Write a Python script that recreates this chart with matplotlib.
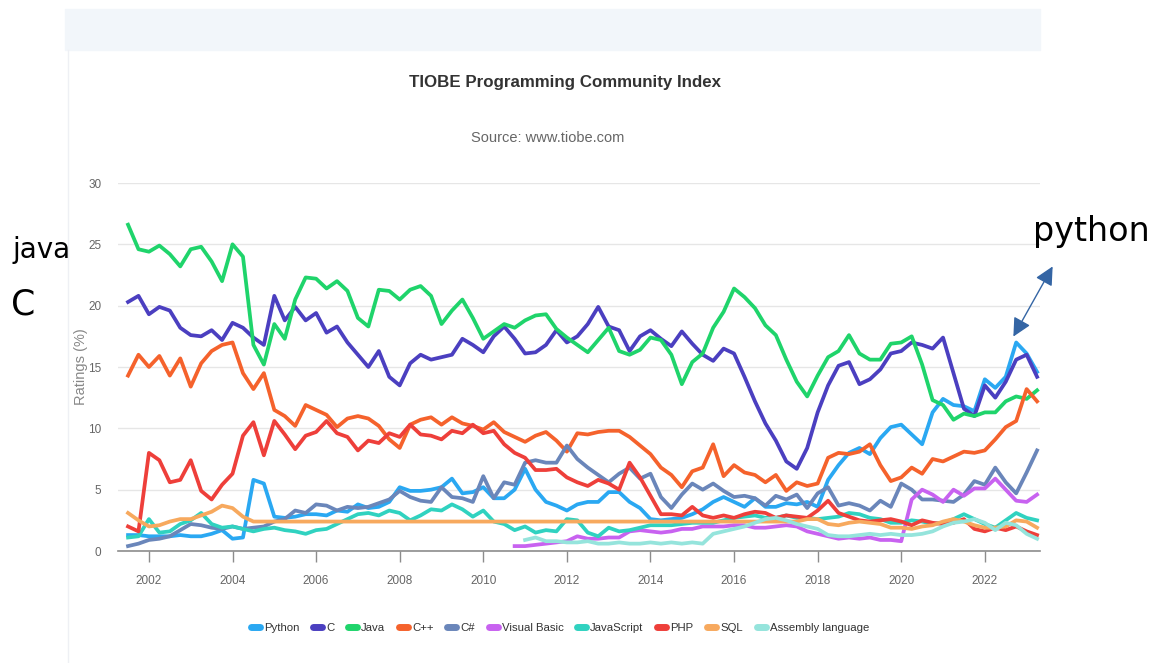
import matplotlib
matplotlib.use("Agg")
import matplotlib.pyplot as plt
import numpy as np
from matplotlib.lines import Line2D
from matplotlib.patches import Rectangle, FancyArrowPatch

nan = np.nan

# quarterly samples, mid 2001 .. spring 2023
years = 2001.5 + 0.25 * np.arange(88)

python = [
    1.3, 1.3, 1.2, 1.2, 1.2, 1.3, 1.2, 1.2,
    1.4, 1.7, 1.0, 1.1, 5.8, 5.5, 2.8, 2.7,
    2.8, 3.0, 3.0, 2.9, 3.3, 3.2, 3.8, 3.5,
    3.6, 4.0, 5.2, 4.9, 4.9, 5.0, 5.2, 5.9,
    4.7, 4.8, 5.2, 4.3, 4.3, 5.0, 6.7, 5.0,
    4.0, 3.7, 3.3, 3.8, 4.0, 4.0, 4.8, 4.8,
    4.0, 3.5, 2.6, 2.5, 2.6, 2.7, 3.0, 3.4,
    4.0, 4.4, 4.0, 3.6, 4.3, 3.6, 3.6, 3.9,
    3.8, 4.0, 3.6, 5.8, 7.0, 8.0, 8.4, 7.9,
    9.2, 10.1, 10.3, 9.5, 8.7, 11.3, 12.4, 11.9,
    11.8, 11.4, 14.0, 13.3, 14.2, 17.0, 16.1, 14.6,
]
c_lang = [
    20.3, 20.8, 19.3, 19.9, 19.6, 18.2, 17.6, 17.5,
    18.0, 17.2, 18.6, 18.2, 17.4, 16.8, 20.8, 18.8,
    19.9, 18.8, 19.4, 17.8, 18.3, 17.0, 16.0, 15.0,
    16.3, 14.2, 13.5, 15.3, 16.0, 15.6, 15.8, 16.0,
    17.3, 16.8, 16.2, 17.5, 18.3, 17.3, 16.1, 16.2,
    16.8, 18.0, 17.0, 17.5, 18.5, 19.9, 18.3, 18.0,
    16.3, 17.5, 18.0, 17.3, 16.7, 17.9, 16.9, 16.0,
    15.5, 16.5, 16.1, 14.2, 12.2, 10.4, 9.0, 7.3,
    6.7, 8.4, 11.3, 13.5, 15.1, 15.4, 13.6, 14.0,
    14.8, 16.1, 16.3, 17.0, 16.8, 16.5, 17.4, 14.5,
    11.6, 11.0, 13.5, 12.5, 13.8, 15.6, 16.0, 14.2,
]
java = [
    26.6, 24.6, 24.4, 24.9, 24.2, 23.2, 24.6, 24.8,
    23.6, 22.0, 25.0, 24.0, 16.8, 15.2, 18.5, 17.3,
    20.5, 22.3, 22.2, 21.4, 22.0, 21.2, 19.0, 18.3,
    21.3, 21.2, 20.5, 21.3, 21.6, 20.8, 18.5, 19.6,
    20.5, 19.0, 17.3, 17.9, 18.5, 18.2, 18.8, 19.2,
    19.3, 18.1, 17.4, 16.8, 16.2, 17.2, 18.2, 16.3,
    16.0, 16.4, 17.4, 17.2, 16.0, 13.6, 15.4, 16.1,
    18.2, 19.5, 21.4, 20.7, 19.8, 18.4, 17.6, 15.6,
    13.8, 12.6, 14.3, 15.8, 16.3, 17.6, 16.1, 15.6,
    15.6, 16.9, 17.0, 17.5, 15.2, 12.3, 11.9, 10.7,
    11.2, 11.0, 11.3, 11.3, 12.2, 12.6, 12.4, 13.1,
]
cpp = [
    14.3, 16.0, 15.0, 15.9, 14.3, 15.7, 13.4, 15.3,
    16.3, 16.8, 17.0, 14.5, 13.2, 14.5, 11.5, 11.0,
    10.2, 11.9, 11.5, 11.1, 10.1, 10.8, 11.0, 10.8,
    10.2, 9.1, 8.4, 10.3, 10.7, 10.9, 10.3, 10.9,
    10.4, 10.2, 9.9, 10.5, 9.7, 9.3, 8.9, 9.4,
    9.7, 9.0, 8.1, 9.6, 9.5, 9.7, 9.8, 9.8,
    9.3, 8.6, 7.9, 6.8, 6.2, 5.2, 6.5, 6.8,
    8.7, 6.1, 7.0, 6.4, 6.2, 5.6, 6.2, 4.9,
    5.6, 5.3, 5.5, 7.6, 8.0, 7.9, 8.1, 8.7,
    7.0, 5.7, 6.0, 6.8, 6.3, 7.5, 7.3, 7.7,
    8.1, 8.0, 8.2, 9.1, 10.1, 10.6, 13.2, 12.2,
]
csharp = [
    0.4, 0.6, 0.9, 1.0, 1.2, 1.7, 2.2, 2.1,
    1.9, 1.8, 2.0, 1.8, 1.9, 2.0, 2.4, 2.6,
    3.3, 3.1, 3.8, 3.7, 3.3, 3.6, 3.5, 3.6,
    3.9, 4.2, 4.9, 4.4, 4.1, 4.0, 5.2, 4.4,
    4.3, 4.0, 6.1, 4.3, 5.6, 5.4, 7.2, 7.4,
    7.2, 7.2, 8.6, 7.5, 6.8, 6.2, 5.6, 6.3,
    6.8, 5.9, 6.3, 4.4, 3.5, 4.6, 5.5, 5.0,
    5.5, 4.9, 4.4, 4.5, 4.3, 3.7, 4.5, 4.2,
    4.6, 3.5, 4.7, 5.2, 3.7, 3.9, 3.7, 3.3,
    4.1, 3.6, 5.5, 5.0, 4.2, 4.2, 4.1, 4.0,
    4.6, 5.7, 5.4, 6.8, 5.6, 4.7, 6.4, 8.2,
]
visual_basic = [
    nan, nan, nan, nan, nan, nan, nan, nan,
    nan, nan, nan, nan, nan, nan, nan, nan,
    nan, nan, nan, nan, nan, nan, nan, nan,
    nan, nan, nan, nan, nan, nan, nan, nan,
    nan, nan, nan, nan, nan, 0.4, 0.4, 0.5,
    0.6, 0.7, 0.8, 1.2, 1.0, 1.0, 1.1, 1.1,
    1.6, 1.7, 1.6, 1.5, 1.6, 1.8, 1.8, 2.0,
    2.0, 2.0, 2.1, 2.1, 1.9, 1.9, 2.0, 2.1,
    2.0, 1.6, 1.4, 1.2, 1.0, 1.1, 1.0, 1.1,
    0.9, 0.9, 0.8, 4.2, 5.0, 4.6, 4.0, 5.0,
    4.5, 5.1, 5.1, 5.9, 5.0, 4.1, 4.0, 4.6,
]
javascript = [
    1.1, 1.2, 2.6, 1.5, 1.6, 2.2, 2.5, 3.1,
    2.2, 1.9, 2.0, 1.8, 1.6, 1.8, 1.9, 1.7,
    1.6, 1.4, 1.7, 1.8, 2.2, 2.6, 3.0, 3.1,
    2.9, 3.3, 3.1, 2.5, 2.9, 3.4, 3.3, 3.8,
    3.4, 2.8, 3.3, 2.4, 2.2, 1.7, 2.0, 1.5,
    1.7, 1.6, 2.6, 2.5, 1.5, 1.2, 1.9, 1.6,
    1.7, 1.9, 2.1, 2.1, 2.1, 2.2, 2.3, 2.3,
    2.3, 2.5, 2.7, 2.8, 2.9, 2.7, 2.7, 2.9,
    2.7, 2.7, 2.6, 2.7, 2.8, 3.1, 3.0, 2.7,
    2.6, 2.3, 2.3, 2.5, 2.4, 2.2, 2.3, 2.6,
    3.0, 2.6, 2.2, 1.9, 2.5, 3.1, 2.7, 2.5,
]
php = [
    2.0, 1.6, 8.0, 7.4, 5.6, 5.8, 7.4, 4.9,
    4.2, 5.4, 6.3, 9.4, 10.5, 7.8, 10.6, 9.5,
    8.3, 9.4, 9.7, 10.6, 9.6, 9.3, 8.2, 9.0,
    8.8, 9.6, 9.3, 10.3, 9.5, 9.4, 9.1, 9.8,
    9.6, 10.3, 9.6, 9.8, 8.7, 8.0, 7.6, 6.6,
    6.6, 6.7, 6.0, 5.6, 5.3, 5.8, 5.5, 5.0,
    7.2, 6.0, 4.5, 3.0, 3.0, 2.9, 3.6, 2.9,
    2.7, 2.9, 2.7, 3.0, 3.2, 3.1, 2.7, 2.9,
    2.8, 2.7, 3.3, 4.1, 3.1, 2.8, 2.5, 2.4,
    2.5, 2.6, 2.4, 2.1, 2.5, 2.3, 2.2, 2.3,
    2.6, 1.8, 1.6, 1.9, 1.7, 2.0, 1.6, 1.3,
]
sql = [
    3.1, 2.5, 2.0, 2.1, 2.4, 2.6, 2.6, 2.9,
    3.2, 3.7, 3.5, 2.8, 2.4, 2.4, 2.4, 2.4,
    2.4, 2.4, 2.4, 2.4, 2.4, 2.4, 2.4, 2.4,
    2.4, 2.4, 2.4, 2.4, 2.4, 2.4, 2.4, 2.4,
    2.4, 2.4, 2.4, 2.4, 2.4, 2.4, 2.4, 2.4,
    2.4, 2.4, 2.4, 2.4, 2.4, 2.4, 2.4, 2.4,
    2.4, 2.4, 2.4, 2.4, 2.4, 2.4, 2.4, 2.4,
    2.4, 2.4, 2.4, 2.4, 2.4, 2.4, 2.4, 2.4,
    2.4, 2.6, 2.6, 2.2, 2.1, 2.3, 2.4, 2.3,
    2.2, 1.9, 1.9, 1.8, 2.0, 2.1, 2.4, 2.6,
    2.4, 2.1, 1.9, 1.9, 2.0, 2.5, 2.4, 1.9,
]
assembly = [
    nan, nan, nan, nan, nan, nan, nan, nan,
    nan, nan, nan, nan, nan, nan, nan, nan,
    nan, nan, nan, nan, nan, nan, nan, nan,
    nan, nan, nan, nan, nan, nan, nan, nan,
    nan, nan, nan, nan, nan, nan, 0.9, 1.1,
    0.8, 0.8, 0.7, 0.7, 0.8, 0.6, 0.6, 0.7,
    0.6, 0.6, 0.7, 0.6, 0.7, 0.6, 0.7, 0.6,
    1.4, 1.6, 1.8, 2.0, 2.3, 2.6, 2.7, 2.5,
    2.2, 2.0, 1.8, 1.3, 1.2, 1.2, 1.3, 1.4,
    1.3, 1.4, 1.3, 1.3, 1.4, 1.6, 2.0, 2.3,
    2.4, 2.6, 2.3, 1.7, 2.3, 2.1, 1.4, 1.0,
]

series = [
    ("Python", python, "#2aa8f2"),
    ("C", c_lang, "#4b3fc0"),
    ("Java", java, "#1fd46b"),
    ("C++", cpp, "#f5622c"),
    ("C#", csharp, "#6a86ba"),
    ("Visual Basic", visual_basic, "#c862f0"),
    ("JavaScript", javascript, "#30d2c0"),
    ("PHP", php, "#ee3f3a"),
    ("SQL", sql, "#f7a95e"),
    ("Assembly language", assembly, "#95e4dc"),
]
year_ticks = [2002, 2004, 2006, 2008, 2010, 2012, 2014, 2016, 2018, 2020, 2022]

W, H = 1157, 663


def fx(px):
    return px / W


def fy(py):
    return 1 - py / H


sans = ["Liberation Sans", "DejaVu Sans"]

fig = plt.figure(figsize=(W / 100, H / 100), dpi=100)

# page decoration of the screenshot
fig.patches.append(Rectangle((fx(65), fy(50)), fx(1040 - 65), 41 / H,
                             transform=fig.transFigure, color="#f2f6fa", zorder=0))
fig.add_artist(Line2D([fx(68), fx(68)], [fy(50), fy(663)], transform=fig.transFigure,
                      color="#eef0f4", lw=1))

ax = fig.add_axes([fx(118), fy(551), fx(1040 - 118), (551 - 183) / H])
for name, vals, col in series:
    ax.plot(years, np.array(vals, dtype=float), color=col, lw=2.7,
            solid_joinstyle="round", label=name)

ax.set_xlim(2001.26, 2023.32)
ax.set_ylim(0, 30)
ax.set_yticks([0, 5, 10, 15, 20, 25, 30])
ax.set_xticks(year_ticks)
ax.yaxis.grid(True, color="#e6e6e6", lw=1)
ax.set_axisbelow(True)
for s in ["top", "right", "left"]:
    ax.spines[s].set_visible(False)
ax.spines["bottom"].set_color("#8c8c8c")
ax.spines["bottom"].set_linewidth(1.2)
ax.tick_params(axis="x", length=8, width=1, color="#8c8c8c", labelcolor="#666666",
               labelsize=8.5, pad=9)
ax.tick_params(axis="y", length=0, labelcolor="#666666", labelsize=8.5, pad=12)
for lab in ax.get_xticklabels() + ax.get_yticklabels():
    lab.set_family(sans)
fig.text(fx(81), fy(367), "Ratings (%)", rotation=90, ha="center", va="center",
         color="#888888", fontsize=10.5, family=sans)

fig.text(fx(565), fy(83), "TIOBE Programming Community Index", ha="center", va="center",
         fontsize=12.2, fontweight="bold", color="#333333", family=sans)
fig.text(fx(548), fy(138), "Source: www.tiobe.com", ha="center", va="center",
         fontsize=10.5, color="#666666", family=sans)

handles = [Line2D([0], [0], color=col, lw=5, solid_capstyle="round") for _, _, col in series]
fig.legend(handles, [n for n, _, _ in series], loc="center", bbox_to_anchor=(fx(560), fy(628)),
           ncol=10, frameon=False, handlelength=0.8, handletextpad=0.35, columnspacing=1.2,
           prop={"family": sans, "size": 8.2}, labelcolor="#333333")

# slide annotations
fig.text(fx(12), fy(250), "java", ha="left", va="center", fontsize=20, color="black")
fig.text(fx(11), fy(305), "C", ha="left", va="center", fontsize=25, color="black")
fig.text(fx(1033), fy(232), "python", ha="left", va="center", fontsize=24, color="black")
fig.add_artist(FancyArrowPatch(
    (fx(1054), fy(264)), (fx(1012), fy(339)), transform=fig.transFigure,
    arrowstyle="<|-|>", mutation_scale=28, color="#3465a4", lw=1))

fig.savefig("out.png", dpi=100, facecolor="white")
